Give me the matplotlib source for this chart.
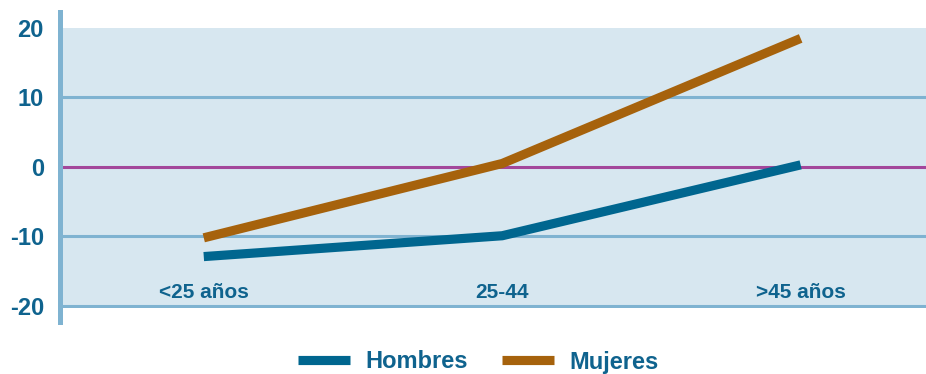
import matplotlib.pyplot as plt
from matplotlib.lines import Line2D

categorias = ['<25 años', '25-44', '>45 años']
hombres = [-12.9, -9.9, 0.3]
mujeres = [-10.2, 0.5, 18.5]
yticks = [-20, -10, 0, 10, 20]

azul = '#00668f'
naranja = '#a6620c'
texto = '#0f638e'
fondo = '#d7e7f0'
rejilla = '#7fb3d1'

plt.rcParams['font.family'] = ['Liberation Sans', 'DejaVu Sans']
plt.rcParams['font.weight'] = 'bold'

fig = plt.figure(figsize=(9.26, 3.74), dpi=100)
ax = fig.add_axes([62 / 926, 1 - 308 / 374, 1 - 62 / 926, 280 / 374])
ax.set_facecolor(fondo)

x = list(range(len(categorias)))

for y in [-20, -10, 10]:
    ax.axhline(y, color=rejilla, lw=2.2, zorder=1)
ax.axhline(0, color='#a3479b', lw=2.2, zorder=1)

ax.plot(x, hombres, color=azul, lw=6.6, solid_capstyle='butt', solid_joinstyle='miter', label='Hombres', zorder=3)
ax.plot(x, mujeres, color=naranja, lw=6.6, solid_capstyle='butt', solid_joinstyle='miter', label='Mujeres', zorder=3)

for xi, c in zip(x, categorias):
    ax.text(xi, -18.1, c, ha='center', va='center', fontsize=15, fontweight='bold', color=texto, zorder=2)

ax.set_xlim(-0.475, 2.42)
ax.set_ylim(-20.3, 20)
ax.set_xticks([])
ax.set_yticks(yticks)
ax.set_yticklabels([str(v) for v in yticks], fontsize=17, fontweight='bold', color=texto)
ax.tick_params(axis='y', length=0, pad=13)
for s in ax.spines.values():
    s.set_visible(False)

# eje vertical que sobresale del area
fig.add_artist(Line2D([60 / 926, 60 / 926], [1 - 12 / 374, 1 - 322 / 374],
                      transform=fig.transFigure, color=rejilla, lw=3.6))

fig.legend(loc='center', bbox_to_anchor=(478 / 926, 1 - 362 / 374), ncol=2, frameon=False,
           prop={'size': 17, 'weight': 'bold'}, labelcolor=texto,
           handlelength=2.2, handletextpad=0.65, columnspacing=1.45)

fig.savefig('out.png', dpi=100)
